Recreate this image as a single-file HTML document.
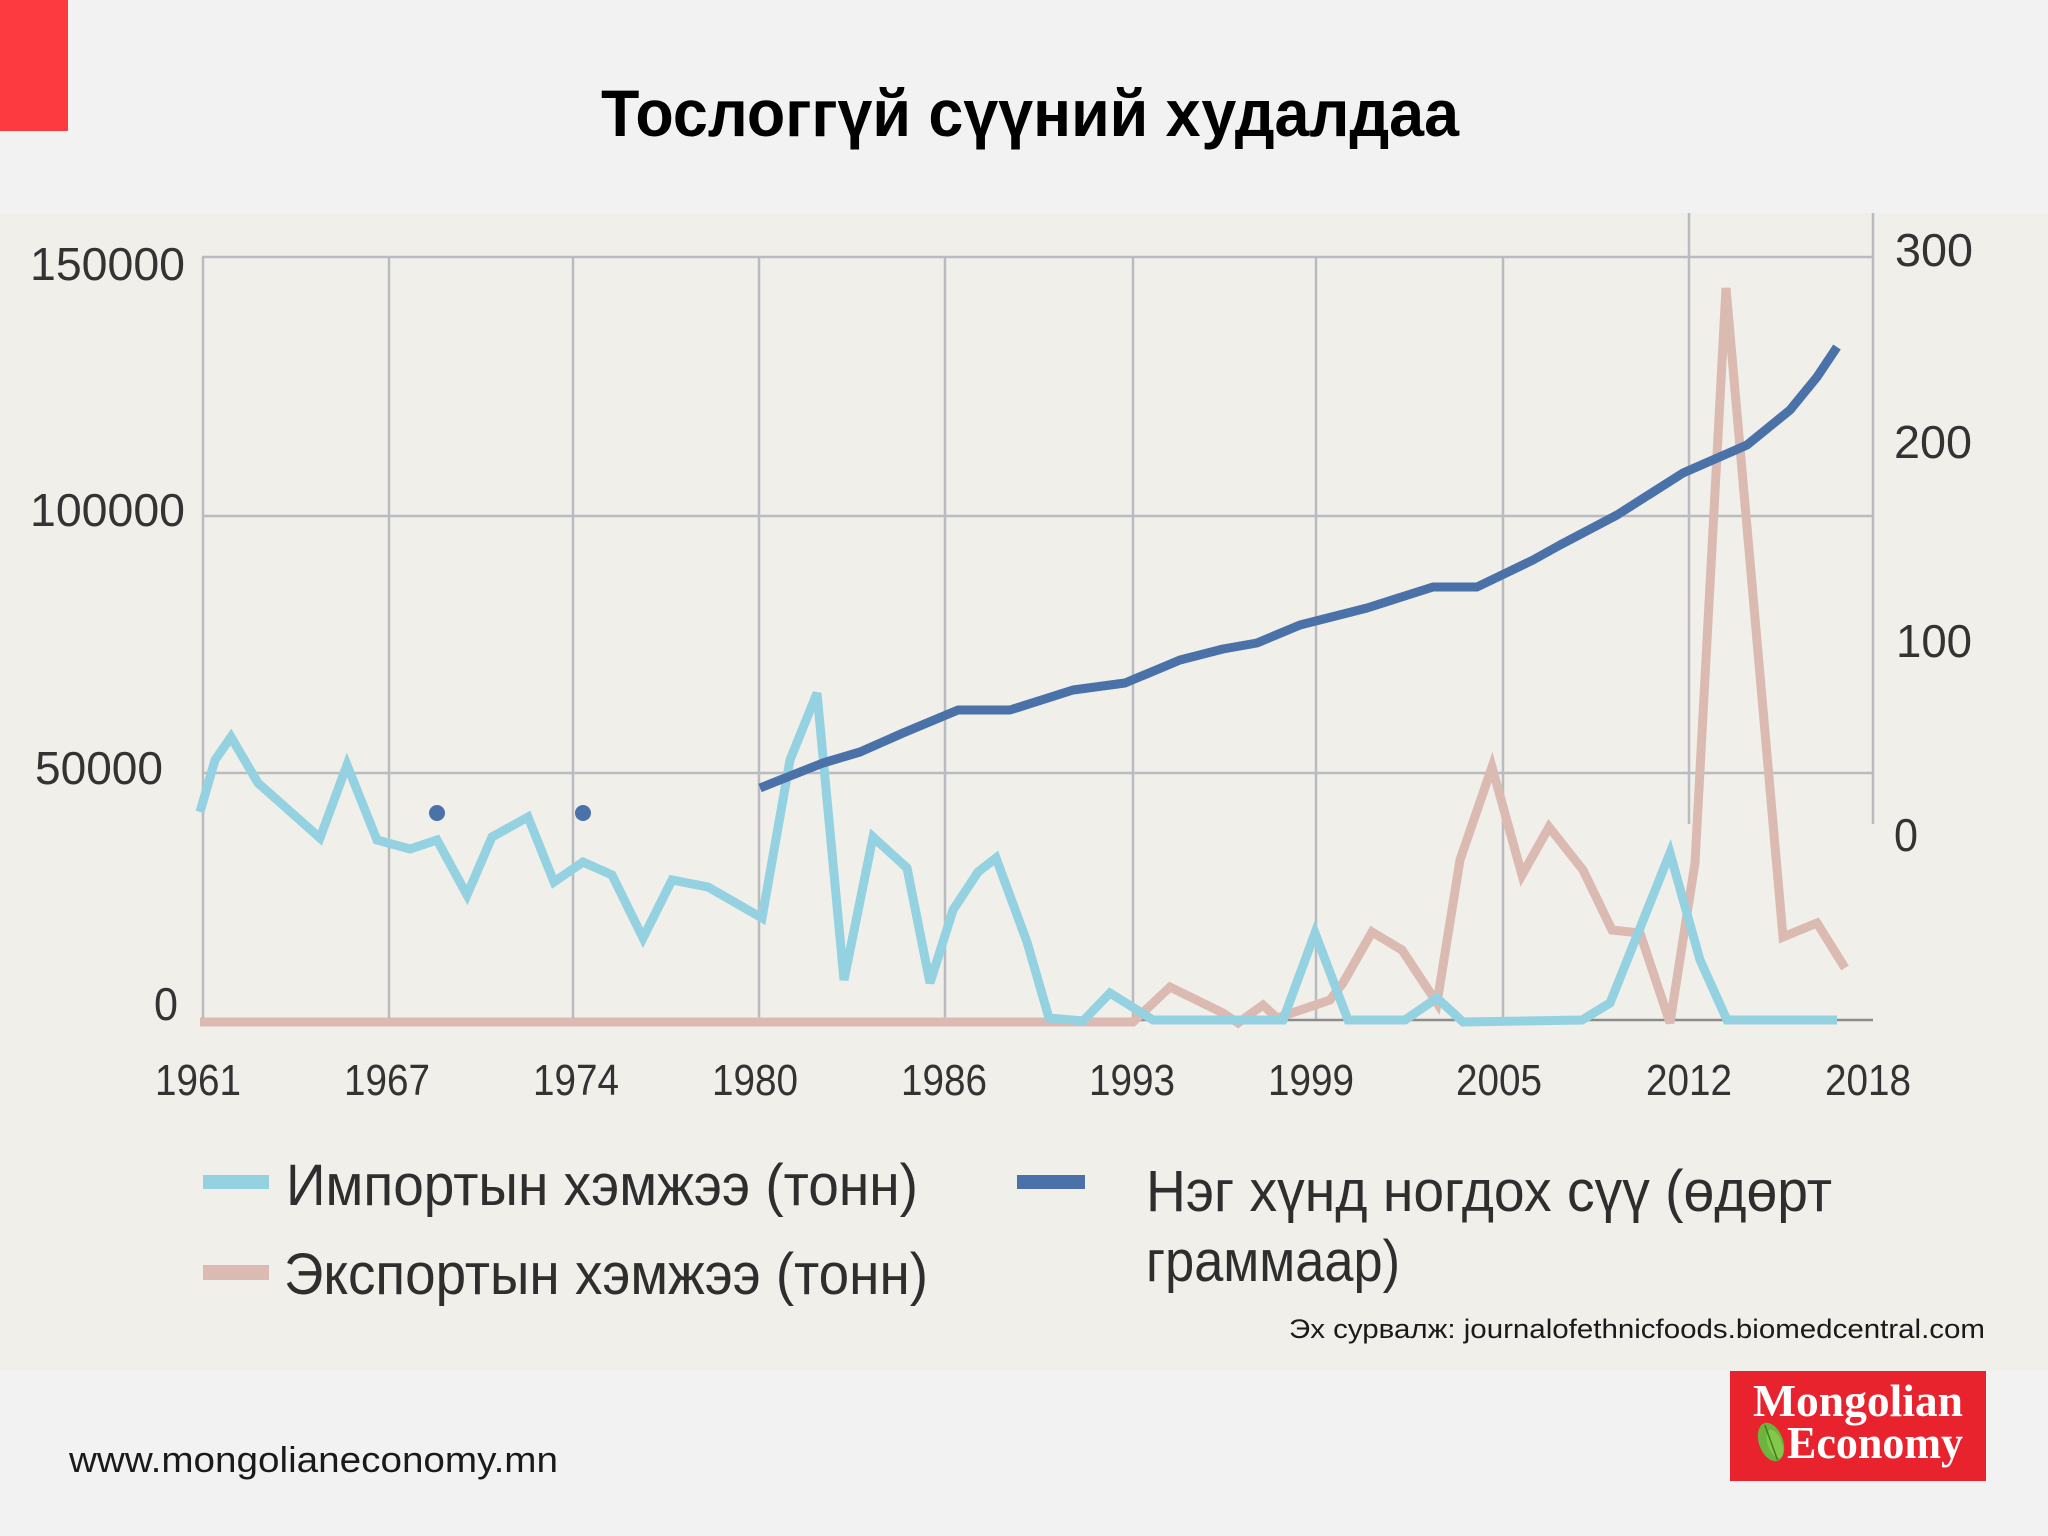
<!DOCTYPE html>
<html>
<head>
<meta charset="utf-8">
<style>
  html,body{margin:0;padding:0;background:#f2f2f2;}
  svg{display:block;}
  text{font-family:"Liberation Sans", "DejaVu Sans", sans-serif;}
</style>
</head>
<body>
<svg width="2048" height="1536" viewBox="0 0 2048 1536" xmlns="http://www.w3.org/2000/svg">
  <!-- page background -->
  <rect x="0" y="0" width="2048" height="1536" fill="#f2f2f2"/>
  <!-- red corner -->
  <rect x="0" y="0" width="68" height="131" fill="#fd3a3f"/>
  <!-- title -->
  <text x="601" y="136" font-size="66" font-weight="bold" fill="#000" textLength="858" lengthAdjust="spacingAndGlyphs">Тослоггүй сүүний худалдаа</text>

  <!-- chart panel -->
  <rect x="0" y="213" width="2048" height="1158" fill="#f0efea"/>

  <!-- gridlines -->
  <g stroke="#babbbf" stroke-width="2.5" fill="none">
    <line x1="202" y1="257" x2="1873" y2="257"/>
    <line x1="202" y1="516" x2="1873" y2="516"/>
    <line x1="202" y1="773" x2="1873" y2="773"/>
    <line x1="203" y1="257" x2="203" y2="1020"/>
    <line x1="389" y1="257" x2="389" y2="1020"/>
    <line x1="573" y1="257" x2="573" y2="1020"/>
    <line x1="759" y1="257" x2="759" y2="1020"/>
    <line x1="945" y1="257" x2="945" y2="1020"/>
    <line x1="1133" y1="257" x2="1133" y2="1020"/>
    <line x1="1316" y1="257" x2="1316" y2="1020"/>
    <line x1="1503" y1="257" x2="1503" y2="1020"/>
    <line x1="1689" y1="213" x2="1689" y2="824"/>
    <line x1="1873" y1="213" x2="1873" y2="824"/>
  </g>
  <!-- zero axis -->
  <line x1="202" y1="1020" x2="1873" y2="1020" stroke="#8c8c8c" stroke-width="2.5"/>

  <!-- export series (pink) -->
  <polyline fill="none" stroke="#dbbab2" stroke-width="9" stroke-linejoin="miter" stroke-miterlimit="4"
    points="200,1022 1133,1022 1170,987 1223,1013 1238,1023 1263,1005 1277,1018 1330,1000 1343,983 1372,932 1402,950 1437,1003 1460,860 1492,767 1522,875 1549,827 1583,870 1612,930 1640,933 1670,1023 1695,863 1726,288 1783,937 1817,923 1845,968"/>

  <!-- import series (light blue) -->
  <polyline fill="none" stroke="#94d2e2" stroke-width="9" stroke-linejoin="miter" stroke-miterlimit="4"
    points="200,812 215,760 231,737 258,783 320,838 347,765 377,840 410,849 437,840 467,895 492,837 528,817 554,882 583,862 612,875 643,938 672,880 708,887 762,918 790,760 817,693 844,980 873,837 907,868 930,983 953,910 978,872 996,858 1027,942 1049,1018 1083,1021 1110,993 1153,1020 1283,1020 1315,933 1348,1020 1405,1020 1437,998 1463,1022 1582,1020 1610,1003 1670,853 1700,960 1727,1020 1837,1020"/>

  <!-- per capita series (dark blue) -->
  <polyline fill="none" stroke="#4a72a9" stroke-width="9" stroke-linejoin="round"
    points="760,788 790,776 823,763 860,752 903,733 958,710 1010,710 1073,690 1125,683 1180,660 1223,649 1257,643 1300,625 1367,608 1433,587 1477,587 1533,560 1560,545 1617,515 1683,473 1747,445 1790,410 1817,377 1837,347"/>
  <circle cx="437" cy="813" r="8" fill="#4a72a9"/>
  <circle cx="583" cy="813" r="8" fill="#4a72a9"/>

  <!-- left axis labels -->
  <g font-size="46" fill="#333">
    <text x="30" y="280" textLength="155" lengthAdjust="spacingAndGlyphs">150000</text>
    <text x="30" y="526" textLength="155" lengthAdjust="spacingAndGlyphs">100000</text>
    <text x="35" y="784" textLength="128" lengthAdjust="spacingAndGlyphs">50000</text>
    <text x="154" y="1020" textLength="24" lengthAdjust="spacingAndGlyphs">0</text>
  </g>
  <!-- right axis labels -->
  <g font-size="46" fill="#333">
    <text x="1895" y="266" textLength="78" lengthAdjust="spacingAndGlyphs">300</text>
    <text x="1894" y="458" textLength="78" lengthAdjust="spacingAndGlyphs">200</text>
    <text x="1896" y="657" textLength="76" lengthAdjust="spacingAndGlyphs">100</text>
    <text x="1894" y="851" textLength="24" lengthAdjust="spacingAndGlyphs">0</text>
  </g>
  <!-- x axis labels -->
  <g font-size="44" fill="#333" text-anchor="middle">
    <text x="198" y="1095" textLength="86" lengthAdjust="spacingAndGlyphs">1961</text>
    <text x="387" y="1095" textLength="86" lengthAdjust="spacingAndGlyphs">1967</text>
    <text x="576" y="1095" textLength="86" lengthAdjust="spacingAndGlyphs">1974</text>
    <text x="755" y="1095" textLength="86" lengthAdjust="spacingAndGlyphs">1980</text>
    <text x="944" y="1095" textLength="86" lengthAdjust="spacingAndGlyphs">1986</text>
    <text x="1132" y="1095" textLength="86" lengthAdjust="spacingAndGlyphs">1993</text>
    <text x="1311" y="1095" textLength="86" lengthAdjust="spacingAndGlyphs">1999</text>
    <text x="1499" y="1095" textLength="86" lengthAdjust="spacingAndGlyphs">2005</text>
    <text x="1689" y="1095" textLength="86" lengthAdjust="spacingAndGlyphs">2012</text>
    <text x="1868" y="1095" textLength="86" lengthAdjust="spacingAndGlyphs">2018</text>
  </g>

  <!-- legend -->
  <rect x="203" y="1175" width="66" height="14" fill="#94d2e2"/>
  <rect x="203" y="1265" width="66" height="15" fill="#dbbab2"/>
  <rect x="1017" y="1175" width="68" height="14" fill="#4a72a9"/>
  <g font-size="58" fill="#2e2e2e">
    <text x="286" y="1205" textLength="632" lengthAdjust="spacingAndGlyphs">Импортын хэмжээ (тонн)</text>
    <text x="284" y="1294" textLength="644" lengthAdjust="spacingAndGlyphs">Экспортын хэмжээ (тонн)</text>
    <text x="1146" y="1211" textLength="686" lengthAdjust="spacingAndGlyphs">Нэг хүнд ногдох сүү (өдөрт</text>
    <text x="1146" y="1281" textLength="254" lengthAdjust="spacingAndGlyphs">граммаар)</text>
  </g>

  <!-- source -->
  <text x="1289" y="1338" font-size="27" fill="#1a1a1a" textLength="696" lengthAdjust="spacingAndGlyphs">Эх сурвалж: journalofethnicfoods.biomedcentral.com</text>

  <!-- footer url -->
  <text x="69" y="1472" font-size="36" fill="#1a1a1a" textLength="489" lengthAdjust="spacingAndGlyphs">www.mongolianeconomy.mn</text>

  <!-- logo -->
  <rect x="1730" y="1371" width="256" height="110" fill="#e8232e"/>
  <text x="1753" y="1416" style="font-family:'Liberation Serif', serif;font-weight:bold;" font-size="46" fill="#fff" textLength="210" lengthAdjust="spacingAndGlyphs">Mongolian</text>
  <text x="1787" y="1458" style="font-family:'Liberation Serif', serif;font-weight:bold;" font-size="46" fill="#fff" textLength="176" lengthAdjust="spacingAndGlyphs">Economy</text>
  <g transform="translate(1771,1442) rotate(-20)">
    <ellipse cx="0" cy="0" rx="12" ry="20" fill="#6db33f"/>
    <ellipse cx="3" cy="3" rx="7" ry="15" fill="#8fd14f" opacity="0.7"/>
    <line x1="0" y1="-18" x2="0" y2="19" stroke="#3f7d22" stroke-width="1.5"/>
  </g>
</svg>
</body>
</html>
